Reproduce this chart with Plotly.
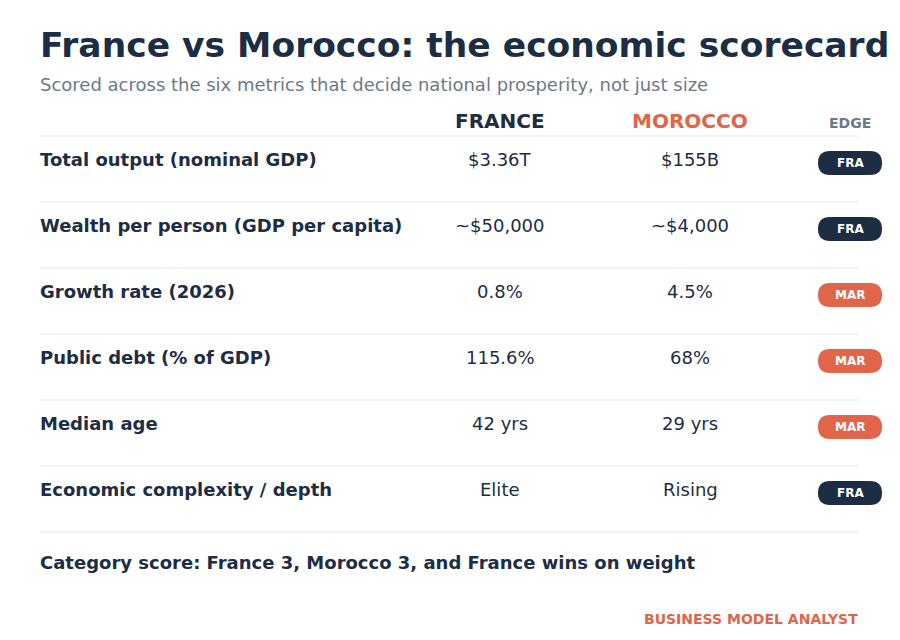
import plotly.graph_objects as go

metrics = ["Total output (nominal GDP)", "Wealth per person (GDP per capita)", "Growth rate (2026)",
           "Public debt (% of GDP)", "Median age", "Economic complexity / depth"]
france = ["$3.36T", "~$50,000", "0.8%", "115.6%", "42 yrs", "Elite"]
morocco = ["$155B", "~$4,000", "4.5%", "68%", "29 yrs", "Rising"]
edge = ["FRA", "FRA", "MAR", "MAR", "MAR", "FRA"]

DARK = "#1d2d44"; ORANGE = "#e0654a"; GRAY = "#6b7a87"; LINE = "#e9e5e0"
F = "DejaVu Sans"

fig = go.Figure()
fig.add_trace(go.Scatter(x=[0], y=[0], mode="markers", marker=dict(opacity=0), hoverinfo="skip", showlegend=False))
ann = []; shapes = []

def T(x, y, t, size, color, bold=False, xa="left"):
    ann.append(dict(x=x, y=y, text=f"<b>{t}</b>" if bold else t, showarrow=False, xanchor=xa, yanchor="middle",
                    font=dict(family=F, size=size, color=color)))

T(38, 45, "France vs Morocco: the economic scorecard", 34.5, DARK, True)
T(38, 84, "Scored across the six metrics that decide national prosperity, not just size", 18, GRAY)
T(500, 121, "FRANCE", 20, DARK, True, "center")
T(690, 121, "MOROCCO", 20, ORANGE, True, "center")
T(850, 123, "EDGE", 14, GRAY, True, "center")

def hline(y):
    shapes.append(dict(type="line", x0=40, x1=859, y0=y, y1=y, line=dict(color=LINE, width=1.2), layer="below"))

hline(136)
for i, m in enumerate(metrics):
    y = 159 + 66 * i
    T(38, y, m, 18, DARK, True)
    T(500, y, france[i], 18, DARK, False, "center")
    T(690, y, morocco[i], 18, DARK, False, "center")
    c = DARK if edge[i] == "FRA" else ORANGE
    x0, x1, y0, y1, r = 818, 882, y - 8, y + 16, 12
    path = (f"M {x0+r},{y0} L {x1-r},{y0} Q {x1},{y0} {x1},{y0+r} Q {x1},{y1} {x1-r},{y1} "
            f"L {x0+r},{y1} Q {x0},{y1} {x0},{y0+r} Q {x0},{y0} {x0+r},{y0} Z")
    shapes.append(dict(type="path", path=path, fillcolor=c, line=dict(width=0)))
    T(850, y + 4, edge[i], 12, "white", True, "center")
    hline(202 + 66 * i)

T(38, 562, "Category score: France 3, Morocco 3, and France wins on weight", 18, DARK, True)
T(860, 619, "BUSINESS MODEL ANALYST", 14, ORANGE, True, "right")

fig.update_layout(width=900, height=640, margin=dict(l=0, r=0, t=0, b=0), plot_bgcolor="white", paper_bgcolor="white",
                  xaxis=dict(range=[8, 908], visible=False, fixedrange=True),
                  yaxis=dict(range=[648, 8], visible=False, fixedrange=True),
                  annotations=ann, shapes=shapes)
fig.write_html("out.html")
